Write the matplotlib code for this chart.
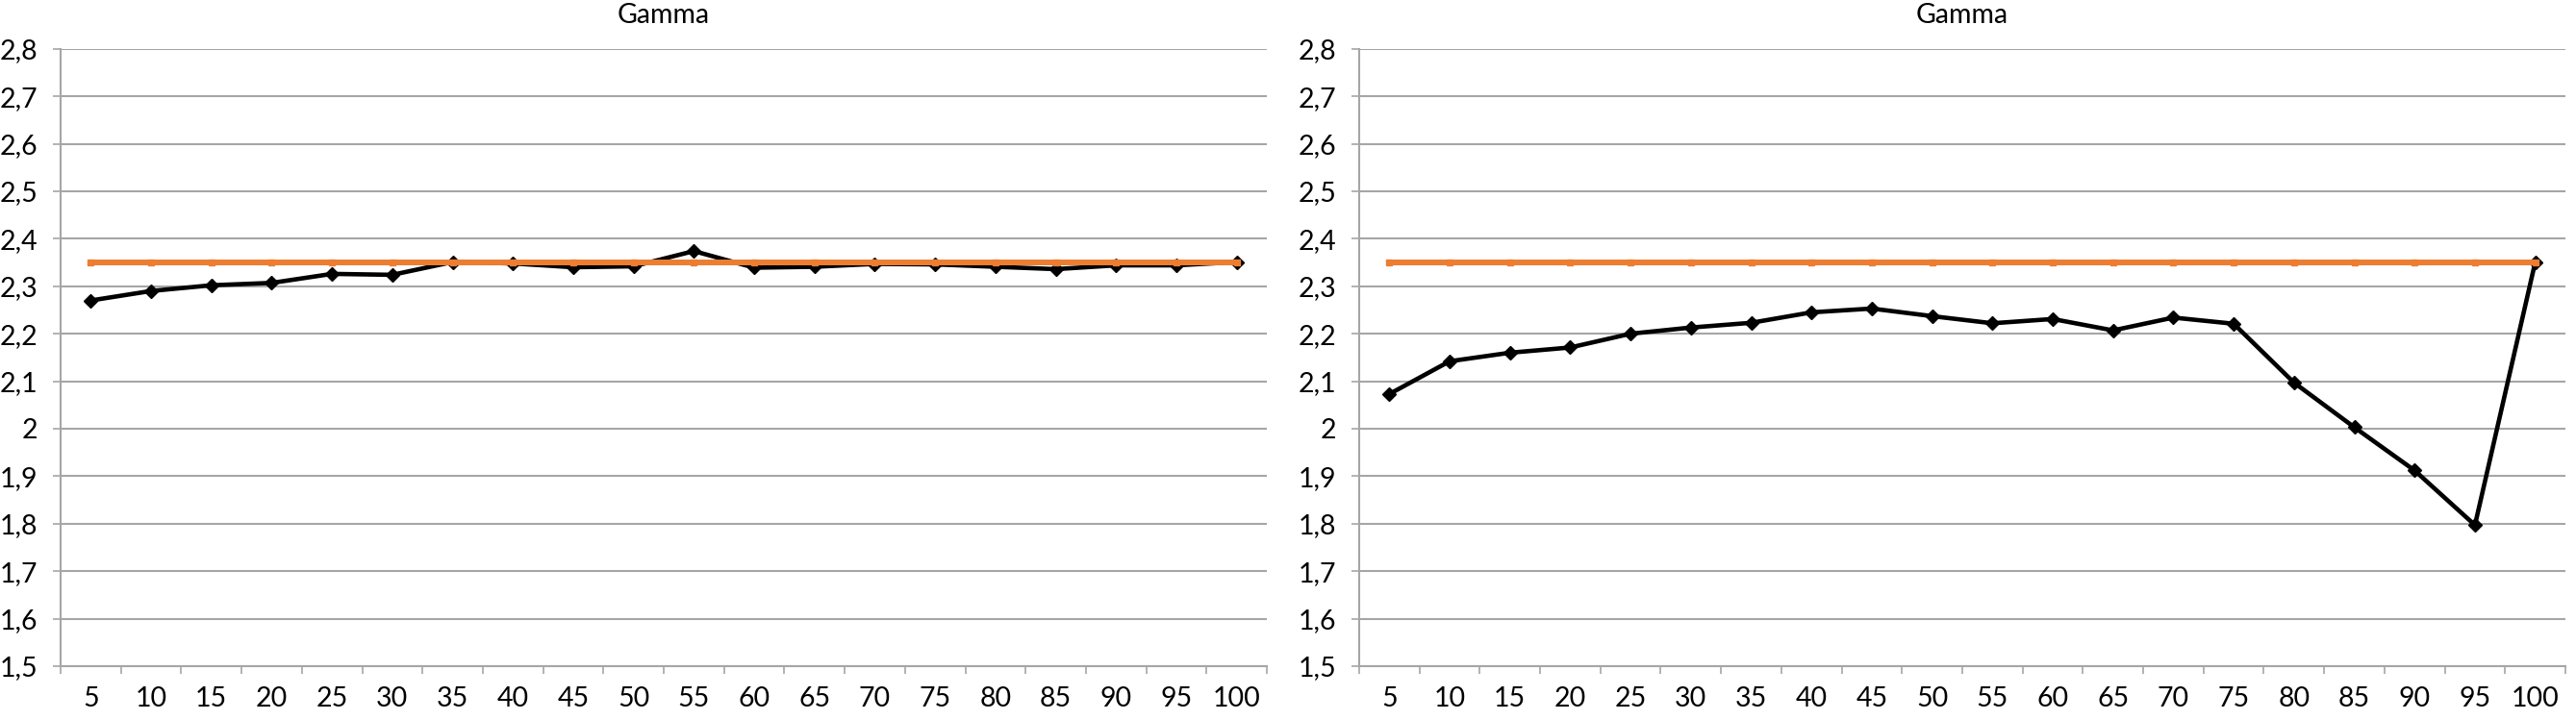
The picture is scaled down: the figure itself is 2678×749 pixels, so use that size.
import numpy as np
import matplotlib
matplotlib.use('Agg')
import matplotlib.pyplot as plt
from matplotlib.ticker import FixedLocator, FuncFormatter

plt.rcParams['font.family'] = ['Lato', 'Open Sans', 'DejaVu Sans']

# Data
categories = [5, 10, 15, 20, 25, 30, 35, 40, 45, 50,
              55, 60, 65, 70, 75, 80, 85, 90, 95, 100]

left_measured = [2.270, 2.290, 2.302, 2.307, 2.326, 2.324, 2.351, 2.348, 2.340, 2.342,
                 2.374, 2.339, 2.341, 2.347, 2.346, 2.341, 2.336, 2.344, 2.344, 2.351]
left_target = [2.35] * 20

right_measured = [2.073, 2.142, 2.160, 2.171, 2.200, 2.213, 2.223, 2.245, 2.253, 2.237,
                  2.222, 2.231, 2.207, 2.234, 2.221, 2.097, 2.003, 1.912, 1.797, 2.351]
right_target = [2.35] * 20

titles = ['Gamma', 'Gamma']
y_ticks = [1.5, 1.6, 1.7, 1.8, 1.9, 2.0, 2.1, 2.2, 2.3, 2.4, 2.5, 2.6, 2.7, 2.8]

GRID = '#a6a6a6'
ORANGE = '#ed7d31'
FS = 20.5


def fmt_y(v, pos):
    s = f'{v:.1f}'
    if s.endswith('.0'):
        s = s[:-2]
    return s.replace('.', ',')


def draw_panel(ax, measured, target, title):
    x = np.arange(len(categories))
    ax.plot(x, measured, color='black', lw=3.3, marker='D', ms=7.5,
            mfc='black', mec='black', zorder=3)
    ax.plot(x, target, color=ORANGE, lw=4.3, marker='s', ms=4.2,
            mfc=ORANGE, mec=ORANGE, zorder=4)

    ax.set_xlim(-0.5, len(categories) - 0.5)
    ax.set_ylim(1.5, 2.8)
    ax.set_xticks(x)
    ax.set_xticklabels([str(c) for c in categories], fontsize=FS)
    ax.xaxis.set_minor_locator(FixedLocator(np.arange(-0.5, len(categories), 1.0)))
    ax.tick_params(axis='x', which='major', length=0, pad=15)
    ax.tick_params(axis='x', which='minor', length=6, width=1.2, color=GRID)

    ax.set_yticks(y_ticks)
    ax.yaxis.set_major_formatter(FuncFormatter(fmt_y))
    ax.tick_params(axis='y', length=6, width=1.2, color=GRID, pad=11, labelsize=FS)
    ax.grid(axis='y', color=GRID, lw=1.5)
    ax.set_axisbelow(True)

    for side in ['top', 'right']:
        ax.spines[side].set_visible(False)
    for side in ['left', 'bottom']:
        ax.spines[side].set_color(GRID)
        ax.spines[side].set_linewidth(1.5)

    ax.set_title(title, fontsize=FS, pad=19)


fig = plt.figure(figsize=(26.78, 7.49), dpi=100)
ax1 = fig.add_axes([0.02353, 0.07477, 0.46826, 0.8575])
ax2 = fig.add_axes([0.52763, 0.07477, 0.46826, 0.8575])

draw_panel(ax1, left_measured, left_target, titles[0])
draw_panel(ax2, right_measured, right_target, titles[1])

fig.savefig('out.png', dpi=100)
